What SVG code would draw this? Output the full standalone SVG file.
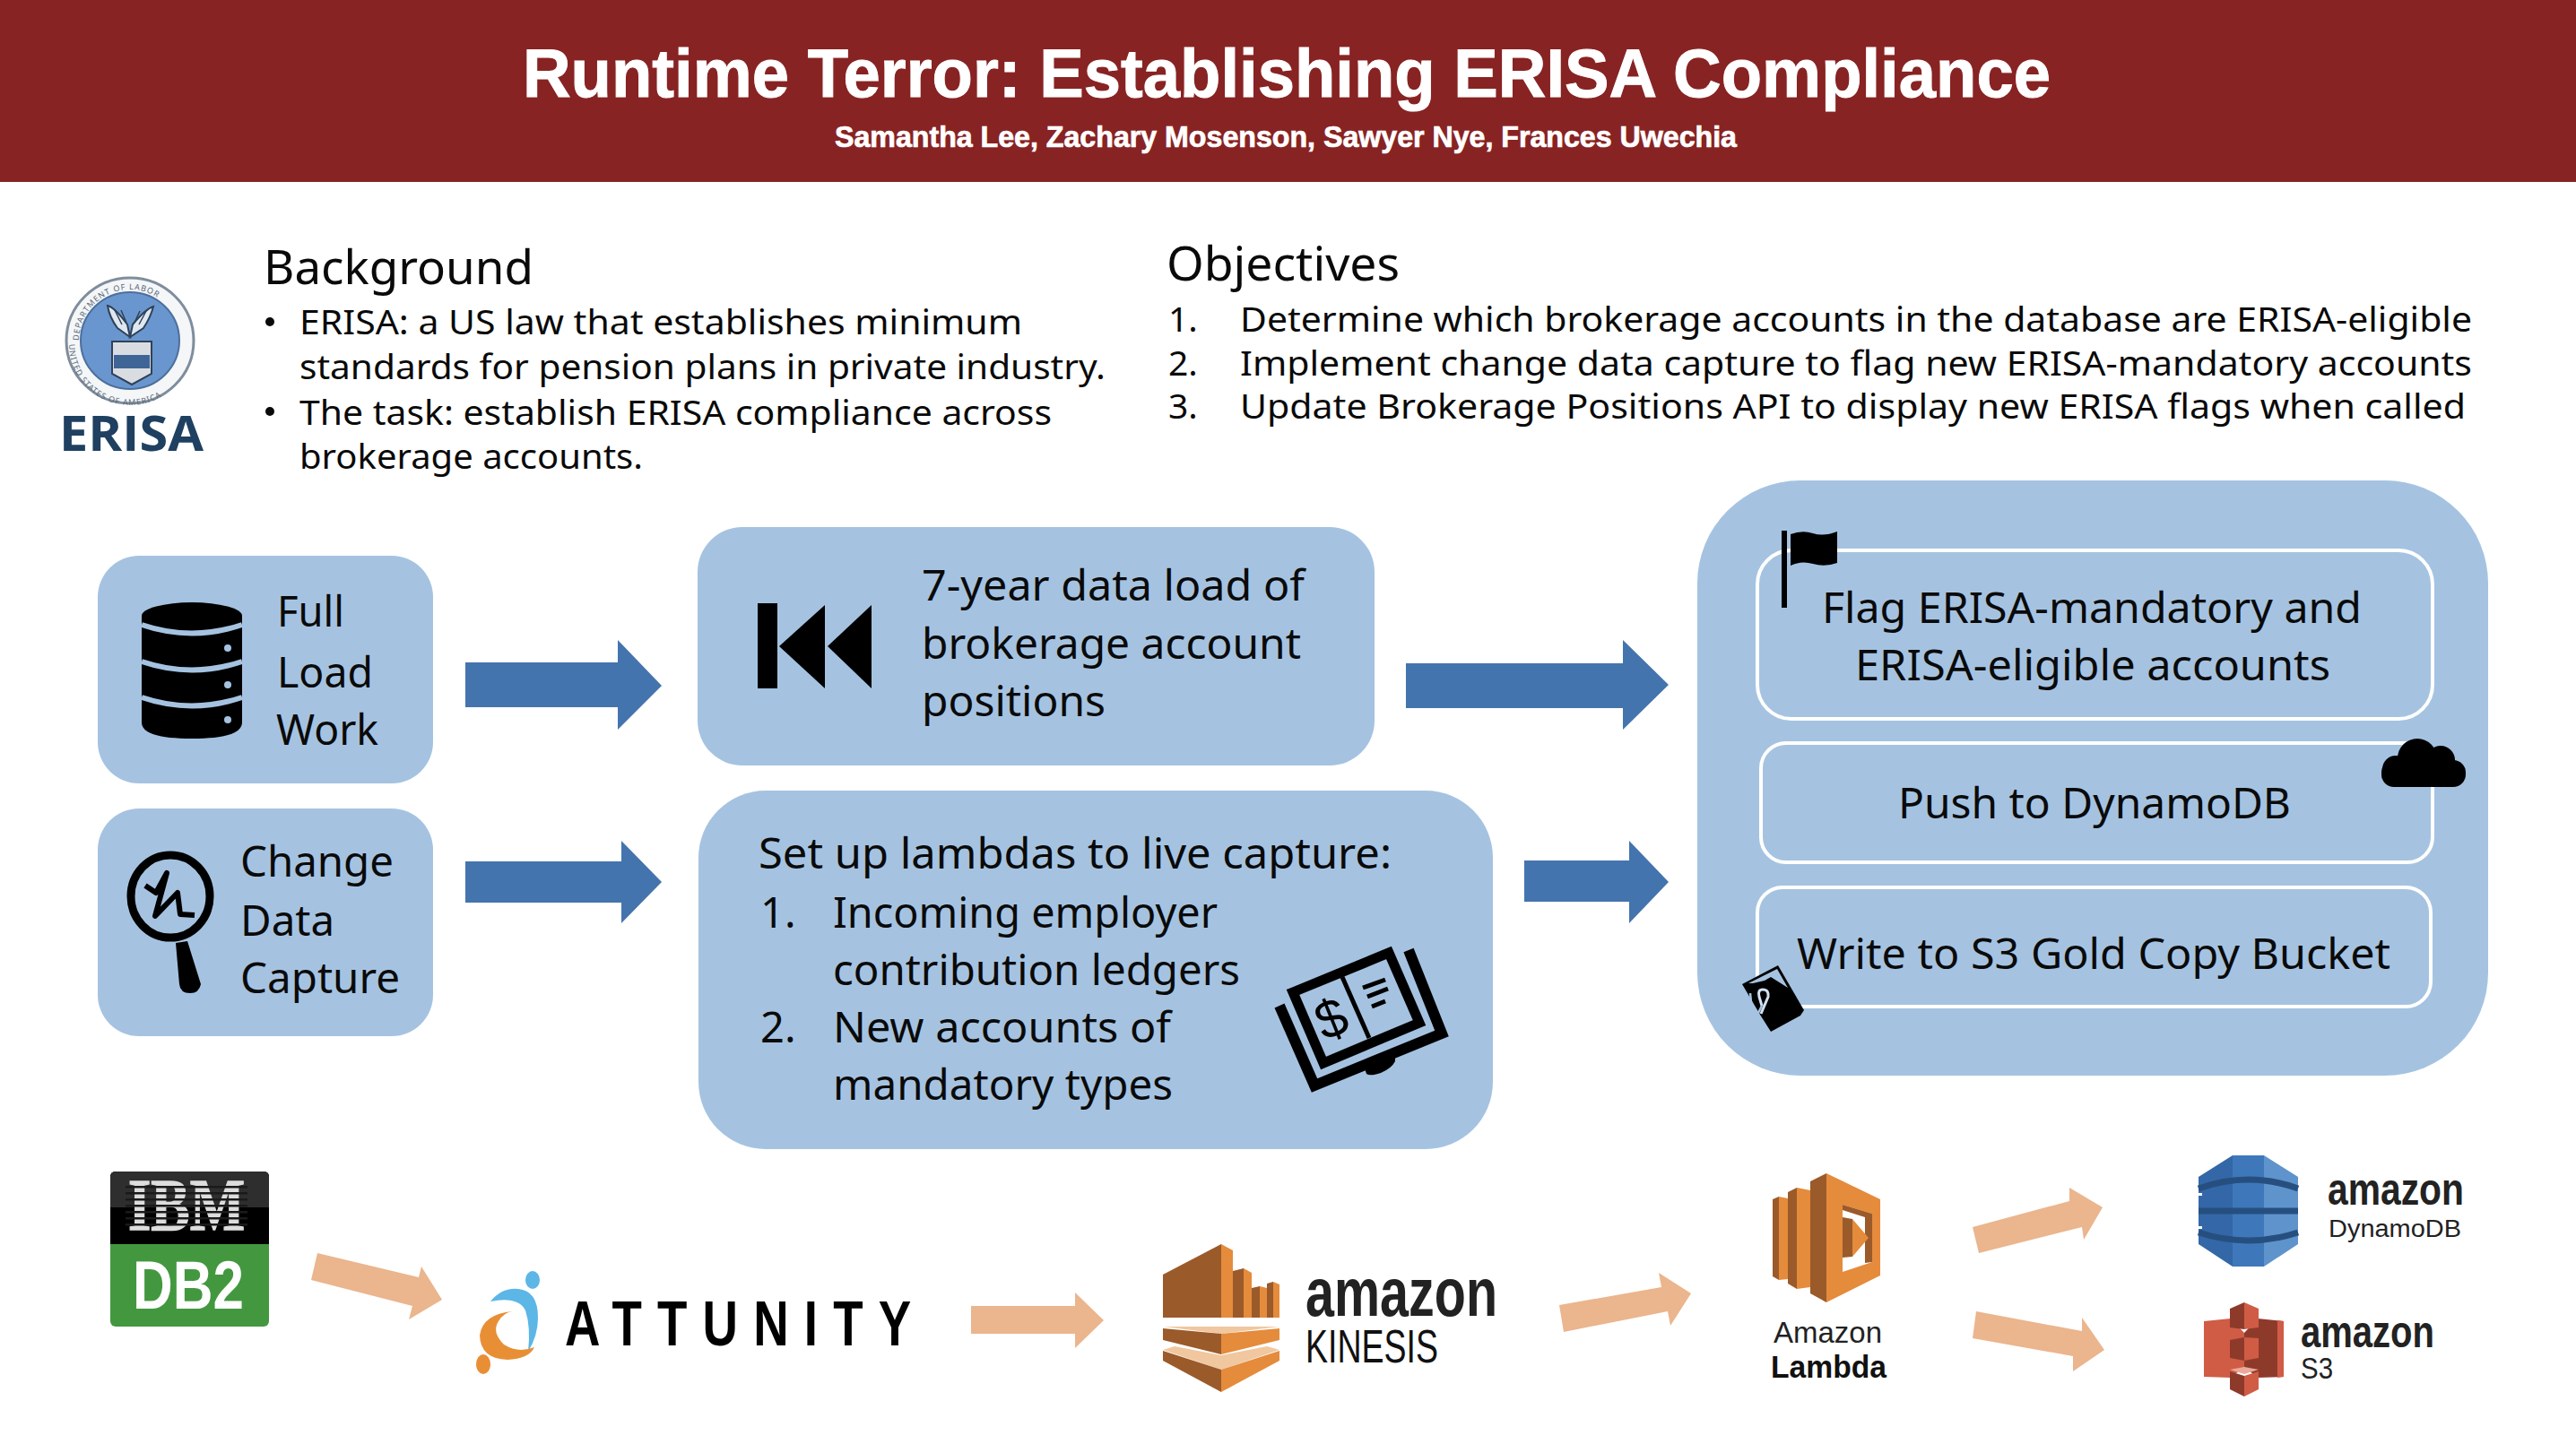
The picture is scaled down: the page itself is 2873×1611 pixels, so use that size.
<svg xmlns="http://www.w3.org/2000/svg" width="2873" height="1611" viewBox="0 0 2873 1611">
<style>
text{font-family:"Noto Sans","Open Sans","Liberation Sans",sans-serif;fill:#0a0a0a}
.h{font-size:52px}.b{font-size:39px}.n{font-size:47px}
.ar{font-family:"Liberation Sans",Arial,sans-serif;font-weight:700}
.box{fill:#a5c3e1}.in{fill:none;stroke:#fff;stroke-width:4}
.blue{fill:#4474ad}.peach{fill:#ebb58d}
.do{fill:#e58b3c}.dd{fill:#9b5a2a}
.sl{fill:#d05c45}.sd{fill:#8e3a2b}
</style>
<defs>
<path id="sealTop" d="M88 380A57 57 0 0 1 202 380"/>
<path id="sealBot" d="M77 384A68 68 0 0 0 213 384"/>
</defs>
<g id="header">
<rect x="0" y="0" width="2873" height="203" fill="#882323"/>
<text class="ar" x="583" y="108" font-size="76" textLength="1704" lengthAdjust="spacingAndGlyphs" stroke="#fff" stroke-width="1" style="fill:#fff">Runtime Terror: Establishing ERISA Compliance</text>
<text class="ar" x="931" y="164" font-size="33" textLength="1006" lengthAdjust="spacingAndGlyphs" stroke="#fff" stroke-width="0.7" style="fill:#fff">Samantha Lee, Zachary Mosenson, Sawyer Nye, Frances Uwechia</text>
</g>
<g id="erisa-logo">
<ellipse cx="145" cy="380" rx="71" ry="70" fill="#f4f6f8" stroke="#7f8d9c" stroke-width="3"/>
<ellipse cx="145" cy="380" rx="55" ry="54" fill="#6a96cf" stroke="#4d6f9c" stroke-width="2"/>
<text font-size="9" letter-spacing="1" style="fill:#5a6878"><textPath href="#sealTop">DEPARTMENT OF LABOR</textPath></text>
<text font-size="9" letter-spacing="1" style="fill:#5a6878"><textPath href="#sealBot">UNITED STATES OF AMERICA</textPath></text>
<g stroke="#2f4259" stroke-width="2">
<path d="M120 341Q128 343 142 362L145 376 131 366Q122 354 120 341Z" fill="#dfe7f0"/>
<path d="M171 342Q162 345 148 362L145 376 160 366Q168 354 171 342Z" fill="#dfe7f0"/>
<path d="M128 346L136 362M135 346L141 360M163 347L155 362M156 347L150 360" fill="none" stroke-width="1.5"/>
<path d="M125 381H169V417L147 429 125 417Z" fill="#d9dde2"/>
</g>
<rect x="127" y="396" width="40" height="15" fill="#3e6596"/>
<text x="66" y="503" font-size="53" font-weight="700" textLength="161" lengthAdjust="spacingAndGlyphs" style="fill:#1f4060;font-family:'Open Sans',sans-serif">ERISA</text>
</g>
<g id="background">
<text class="h" x="294" y="317" textLength="301" lengthAdjust="spacingAndGlyphs">Background</text>
<circle cx="301" cy="359" r="5" fill="#0a0a0a"/><circle cx="301" cy="459" r="5" fill="#0a0a0a"/>
<text class="b" x="334" y="373" textLength="806" lengthAdjust="spacingAndGlyphs">ERISA: a US law that establishes minimum</text>
<text class="b" x="334" y="423" textLength="899" lengthAdjust="spacingAndGlyphs">standards for pension plans in private industry.</text>
<text class="b" x="334" y="474" textLength="839" lengthAdjust="spacingAndGlyphs">The task: establish ERISA compliance across</text>
<text class="b" x="334" y="523" textLength="383" lengthAdjust="spacingAndGlyphs">brokerage accounts.</text>
</g>
<g id="objectives">
<text class="h" x="1301" y="313" textLength="260" lengthAdjust="spacingAndGlyphs">Objectives</text>
<text class="b" x="1303" y="370">1.</text><text class="b" x="1303" y="419">2.</text><text class="b" x="1303" y="467">3.</text>
<text class="b" x="1383" y="370" textLength="1374" lengthAdjust="spacingAndGlyphs">Determine which brokerage accounts in the database are ERISA-eligible</text>
<text class="b" x="1383" y="419" textLength="1374" lengthAdjust="spacingAndGlyphs">Implement change data capture to flag new ERISA-mandatory accounts</text>
<text class="b" x="1383" y="467" textLength="1367" lengthAdjust="spacingAndGlyphs">Update Brokerage Positions API to display new ERISA flags when called</text>
</g>
<g id="connectors">
<polygon class="blue" points="519,739 689,739 689,714 738,765 689,814 689,789 519,789"/>
<polygon class="blue" points="519,961 693,961 693,938 738,984 693,1030 693,1007 519,1007"/>
<polygon class="blue" points="1568,740 1810,740 1810,714 1861,764 1810,814 1810,790 1568,790"/>
<polygon class="blue" points="1700,960 1817,960 1817,938 1861,984 1817,1030 1817,1006 1700,1006"/>
<polygon class="peach" points="354,1398 467,1425 470,1413 493,1450 456,1472 460,1457 347,1428"/>
<polygon class="peach" points="1083,1457 1199,1457 1199,1442 1231,1473 1199,1504 1199,1488 1083,1488"/>
<polygon class="peach" points="1739,1456 1853,1436 1850,1420 1886,1443 1863,1479 1860,1463 1744,1486"/>
<polygon class="peach" points="2200,1369 2308,1340 2308,1325 2345,1347 2324,1383 2322,1369 2207,1398"/>
<polygon class="peach" points="2204,1463 2322,1485 2322,1470 2347,1506 2312,1530 2312,1513 2200,1493"/>
</g>
<g id="full-load">
<rect class="box" x="109" y="620" width="374" height="254" rx="46"/>
<path d="M158 687A56 15 0 0 1 270 687V806Q270 824 214 824Q158 824 158 806Z"/>
<g fill="none" stroke="#a5c3e1" stroke-width="6"><path d="M158 697Q214 716 270 697"/><path d="M158 738Q214 757 270 738"/><path d="M158 778Q214 797 270 778"/></g>
<g fill="#a5c3e1"><circle cx="254" cy="723" r="4"/><circle cx="254" cy="764" r="4"/><circle cx="254" cy="803" r="4"/></g>
<text class="n" x="309" y="699" textLength="75" lengthAdjust="spacingAndGlyphs">Full</text>
<text class="n" x="309" y="767" textLength="107" lengthAdjust="spacingAndGlyphs">Load</text>
<text class="n" x="308" y="831" textLength="114" lengthAdjust="spacingAndGlyphs">Work</text>
</g>
<g id="change-data-capture">
<rect class="box" x="109" y="902" width="374" height="254" rx="46"/>
<ellipse cx="190" cy="1000" rx="44" ry="46" fill="none" stroke="#000" stroke-width="9"/>
<polyline points="162,988 174,996 186,974 173,1022 198,996 201,1020 217,1021" fill="none" stroke="#000" stroke-width="6" stroke-linejoin="round"/>
<path d="M196 1052L209 1050 224 1098Q222 1108 212 1108 201 1108 200 1098Z"/>
<text class="n" x="268" y="978" textLength="171" lengthAdjust="spacingAndGlyphs">Change</text>
<text class="n" x="268" y="1044" textLength="105" lengthAdjust="spacingAndGlyphs">Data</text>
<text class="n" x="268" y="1108" textLength="178" lengthAdjust="spacingAndGlyphs">Capture</text>
</g>
<g id="data-load">
<rect class="box" x="778" y="588" width="755" height="266" rx="50"/>
<rect x="845" y="673" width="22" height="95"/>
<polygon points="869,721 920,675 920,768"/><polygon points="923,721 972,675 972,768"/>
<text class="n" x="1028" y="670" textLength="427" lengthAdjust="spacingAndGlyphs">7-year data load of</text>
<text class="n" x="1028" y="735" textLength="423" lengthAdjust="spacingAndGlyphs">brokerage account</text>
<text class="n" x="1028" y="799" textLength="205" lengthAdjust="spacingAndGlyphs">positions</text>
</g>
<g id="lambda-setup">
<rect class="box" x="779" y="882" width="886" height="400" rx="75"/>
<text class="n" x="846" y="969" textLength="706" lengthAdjust="spacingAndGlyphs">Set up lambdas to live capture:</text>
<text class="n" x="848" y="1035">1.</text><text class="n" x="848" y="1163">2.</text>
<text class="n" x="929" y="1035" textLength="429" lengthAdjust="spacingAndGlyphs">Incoming employer</text>
<text class="n" x="929" y="1099" textLength="454" lengthAdjust="spacingAndGlyphs">contribution ledgers</text>
<text class="n" x="929" y="1163" textLength="377" lengthAdjust="spacingAndGlyphs">New accounts of</text>
<text class="n" x="929" y="1227" textLength="379" lengthAdjust="spacingAndGlyphs">mandatory types</text>
<g id="ledger-icon" fill="none" stroke="#000" stroke-linejoin="miter">
<polygon points="1442,1107 1549,1063 1583,1141 1476,1186" stroke-width="11"/>
<line x1="1497" y1="1090" x2="1527" y2="1158" stroke-width="5"/>
<polyline points="1427,1122 1466,1211 1608,1153 1571,1060" stroke-width="12"/>
<path d="M1522 1192L1556 1178V1184Q1552 1192 1540 1197 1528 1201 1524 1198Z" fill="#000" stroke="none"/>
<path d="M1520 1102L1545 1093M1525 1112L1548 1103M1530 1123L1545 1117" stroke-width="5"/>
<text x="0" y="20" text-anchor="middle" transform="translate(1485 1137) rotate(-22)" font-size="60" style="fill:#000;font-family:'Liberation Sans',sans-serif" stroke="none">$</text>
</g>
</g>
<g id="pipeline-steps">
<rect class="box" x="1893" y="536" width="882" height="664" rx="115"/>
<rect class="in" x="1960" y="614" width="753" height="188" rx="38"/>
<rect class="in" x="1964" y="829" width="749" height="133" rx="28"/>
<rect class="in" x="1960" y="990" width="751" height="133" rx="28"/>
<text class="n" x="2032" y="695" textLength="602" lengthAdjust="spacingAndGlyphs">Flag ERISA-mandatory and</text>
<text class="n" x="2069" y="759" textLength="530" lengthAdjust="spacingAndGlyphs">ERISA-eligible accounts</text>
<text class="n" x="2117" y="913" textLength="438" lengthAdjust="spacingAndGlyphs">Push to DynamoDB</text>
<text class="n" x="2004" y="1081" textLength="662" lengthAdjust="spacingAndGlyphs">Write to S3 Gold Copy Bucket</text>
<rect x="1987" y="592" width="6" height="86"/>
<path d="M1997 596Q2010 591 2022 595T2049 593V628Q2035 633 2022 629T1997 631Z"/>
<g id="cloud-icon"><rect x="2656" y="848" width="94" height="30" rx="14"/><circle cx="2696" cy="846" r="22"/><circle cx="2722" cy="848" r="16"/><circle cx="2672" cy="858" r="15"/></g>
<g id="tag-icon">
<polygon points="1943,1098 1983,1077 2012,1127 2008,1133 1975,1151 1963,1132"/>
<polygon points="1950,1097 1982,1081 1994,1102 1975,1090 1968,1094 1955,1097" fill="#a5c3e1"/>
<path d="M1964 1131L1972 1112Q1973 1104 1966 1104 1960 1104 1962 1112L1965 1122" fill="none" stroke="#d3e2f2" stroke-width="3"/>
<path d="M1952 1108L1954 1128Q1956 1134 1960 1132L1965 1122" fill="none" stroke="#a5c3e1" stroke-width="2.5"/>
</g>
</g>
<g id="db2">
<rect x="123" y="1307" width="177" height="173" rx="6" fill="#43983f"/>
<path d="M123 1388V1313Q123 1307 129 1307H294Q300 1307 300 1313V1388Z" fill="#000"/>
<path d="M123 1347V1313Q123 1307 129 1307H294Q300 1307 300 1313V1347Z" fill="#2e2e2e"/>
<text x="143" y="1372" font-size="83" font-weight="700" textLength="130" lengthAdjust="spacingAndGlyphs" stroke="#ddd" stroke-width="1.5" style="fill:#ddd;font-family:'Liberation Serif',serif">IBM</text>
<g fill="#1a1a1a"><rect x="140" y="1323" width="136" height="2.5"/><rect x="140" y="1330" width="136" height="2.5"/><rect x="140" y="1337" width="136" height="2.5"/><rect x="140" y="1344" width="136" height="2.5"/><rect x="140" y="1351" width="136" height="2.5"/><rect x="140" y="1358" width="136" height="2.5"/><rect x="140" y="1365" width="136" height="2.5"/></g>
<text class="ar" x="148" y="1460" font-size="76" textLength="124" lengthAdjust="spacingAndGlyphs" style="fill:#fff">DB2</text>
</g>
<g id="attunity">
<ellipse cx="594" cy="1428" rx="8" ry="10" fill="#5cb6e6"/>
<path d="M547 1452Q560 1436 578 1438 600 1440 600 1470 600 1490 589 1508 592 1480 586 1462 578 1446 547 1452Z" fill="#5cb6e6"/>
<path d="M572 1463Q538 1466 535 1490 536 1516 566 1517 590 1516 596 1503 578 1510 562 1500 548 1486 556 1474 562 1464 572 1463Z" fill="#e88f36"/>
<ellipse cx="539" cy="1522" rx="8" ry="11" fill="#e88f36"/>
<text class="ar" x="0" y="0" transform="translate(630 1501) scale(.78 1)" font-size="70" textLength="495" lengthAdjust="spacing" style="fill:#000">ATTUNITY</text>
</g>
<g id="kinesis">
<polygon class="dd" points="1297,1422 1362,1388 1362,1470 1297,1470"/><polygon class="do" points="1362,1388 1375,1395 1375,1470 1362,1470"/>
<polygon class="dd" points="1375,1418 1387,1415 1387,1470 1375,1470"/><polygon class="do" points="1387,1415 1396,1420 1396,1470 1387,1470"/>
<polygon class="dd" points="1396,1437 1405,1435 1405,1470 1396,1470"/><polygon class="do" points="1405,1435 1413,1437 1413,1470 1405,1470"/>
<polygon class="dd" points="1413,1432 1420,1430 1420,1470 1413,1470"/><polygon class="do" points="1420,1430 1427,1433 1427,1470 1420,1470"/>
<polygon points="1297,1480 1427,1480 1362,1488" fill="#f0c79f"/>
<polygon class="dd" points="1297,1482 1362,1488 1362,1511 1297,1495"/><polygon class="do" points="1362,1488 1427,1482 1427,1495 1362,1511"/>
<polygon points="1297,1506 1310,1502 1362,1512 1413,1502 1427,1506 1362,1528" fill="#f0c79f"/>
<polygon class="dd" points="1297,1507 1362,1528 1362,1553 1297,1518"/><polygon class="do" points="1362,1528 1427,1507 1427,1518 1362,1553"/>
<text class="ar" x="1456" y="1468" font-size="76" textLength="214" lengthAdjust="spacingAndGlyphs" style="fill:#222">amazon</text>
<text class="ar" x="1456" y="1520" font-size="51" textLength="148" lengthAdjust="spacingAndGlyphs" style="font-weight:400;fill:#111">KINESIS</text>
</g>
<g id="lambda">
<polygon class="dd" points="1977,1338 1984,1335 1984,1428 1977,1424"/><polygon class="do" points="1984,1335 1994,1337 1994,1427 1984,1428"/>
<polygon class="dd" points="1994,1330 2004,1325 2004,1438 1994,1432"/><polygon class="do" points="2004,1325 2019,1328 2019,1436 2004,1438"/>
<polygon class="dd" points="2019,1318 2037,1309 2037,1453 2019,1443"/>
<polygon class="do" points="2037,1309 2097,1338 2097,1423 2037,1453"/>
<polygon points="2055,1344 2088,1354 2088,1408 2055,1419" fill="#fff"/>
<polygon class="dd" points="2055,1344 2088,1354 2088,1408 2080,1409 2080,1358 2055,1350"/>
<polygon class="dd" points="2055,1358 2066,1360 2066,1402 2055,1403"/>
<polygon class="do" points="2066,1360 2084,1381 2066,1402"/>
<text class="ar" x="1978" y="1498" font-size="33" textLength="121" lengthAdjust="spacingAndGlyphs" style="font-weight:400;fill:#222">Amazon</text>
<text class="ar" x="1975" y="1537" font-size="35" textLength="129" lengthAdjust="spacingAndGlyphs" style="fill:#111">Lambda</text>
</g>
<g id="dynamodb">
<polygon points="2490,1289 2452,1313 2452,1388 2490,1413" fill="#3367a8"/>
<rect x="2490" y="1289" width="35" height="124" fill="#3e78bb"/>
<polygon points="2525,1289 2563,1313 2563,1388 2525,1413" fill="#5e93cc"/>
<g fill="none" stroke="#264f7f" stroke-width="7"><path d="M2452 1326Q2508 1306 2563 1326"/><path d="M2452 1351H2563"/><path d="M2452 1375Q2508 1393 2563 1375"/></g>
<g fill="#fff"><rect x="2451" y="1331" width="5" height="3"/><rect x="2451" y="1368" width="5" height="3"/></g>
<text class="ar" x="2596" y="1344" font-size="50" textLength="152" lengthAdjust="spacingAndGlyphs" style="fill:#222">amazon</text>
<text class="ar" x="2597" y="1380" font-size="27" textLength="148" lengthAdjust="spacingAndGlyphs" style="font-weight:400;fill:#222">DynamoDB</text>
</g>
<g id="s3">
<polygon class="sl" points="2458,1474 2488,1471 2503,1487 2503,1525 2488,1537 2458,1536"/>
<polygon class="sd" points="2518,1471 2547,1474 2547,1536 2518,1537 2503,1525 2503,1487"/>
<polygon class="sl" points="2540,1473 2547,1474 2547,1536 2540,1537"/>
<polygon class="sd" points="2487,1460 2503,1453 2503,1483 2487,1481"/><polygon class="sl" points="2503,1453 2519,1460 2519,1481 2503,1483"/>
<polygon class="sd" points="2487,1495 2503,1492 2503,1518 2487,1515"/><polygon class="sl" points="2503,1492 2519,1493 2519,1515 2503,1518"/>
<polygon class="sd" points="2487,1530 2503,1535 2503,1558 2487,1550"/><polygon class="sl" points="2503,1535 2519,1530 2519,1550 2503,1558"/>
<polygon points="2487,1528 2503,1525 2519,1528 2503,1533" fill="#eaa99a"/>
<text class="ar" x="2566" y="1503" font-size="50" textLength="149" lengthAdjust="spacingAndGlyphs" style="fill:#222">amazon</text>
<text class="ar" x="2566" y="1538" font-size="33" textLength="36" lengthAdjust="spacingAndGlyphs" style="font-weight:400;fill:#222">S3</text>
</g>
</svg>
